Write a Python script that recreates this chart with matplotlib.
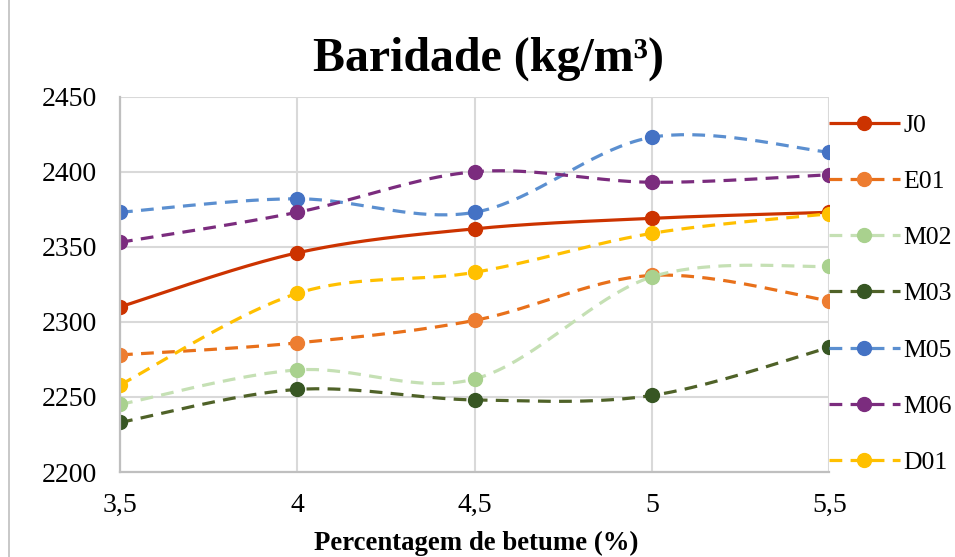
import numpy as np
import matplotlib
matplotlib.use("Agg")
import matplotlib.pyplot as plt

plt.rcParams['font.family'] = ['Liberation Serif', 'DejaVu Serif']

# Data: bulk density (kg/m3) vs bitumen content (%)
betume = [3.5, 4.0, 4.5, 5.0, 5.5]
x_labels = ["3,5", "4", "4,5", "5", "5,5"]

J0 = [2310, 2346, 2362, 2369, 2373]
E01 = [2278, 2286, 2301, 2331, 2314]
M02 = [2245, 2268, 2262, 2330, 2337]
M03 = [2233, 2255, 2248, 2251, 2283]
M05 = [2373, 2382, 2373, 2423, 2413]
M06 = [2353, 2373, 2400, 2393, 2398]
D01 = [2258, 2319, 2333, 2359, 2372]

series = [
    ("J0", J0, "#CC3300", "#CC3300", "-"),
    ("E01", E01, "#E8701A", "#ED7D31", "--"),
    ("M02", M02, "#C5E0B4", "#A9D18E", "--"),
    ("M03", M03, "#4F6228", "#375623", "--"),
    ("M05", M05, "#5B8FD0", "#4472C4", "--"),
    ("M06", M06, "#7B2C7E", "#7B2C7E", "--"),
    ("D01", D01, "#FFC000", "#FFC000", "--"),
]


def smooth(xs, ys, n=40):
    """Bezier smoothing through every point (Catmull-Rom style control points)."""
    pts = np.column_stack([xs, ys]).astype(float)
    out = []
    for i in range(len(pts) - 1):
        p0 = pts[i - 1] if i > 0 else pts[i]
        p1, p2 = pts[i], pts[i + 1]
        p3 = pts[i + 2] if i + 2 < len(pts) else pts[i + 1]
        c1 = p1 + (p2 - p0) / 6.0
        c2 = p2 - (p3 - p1) / 6.0
        t = np.linspace(0, 1, n)[:, None]
        seg = ((1 - t) ** 3 * p1 + 3 * (1 - t) ** 2 * t * c1
               + 3 * (1 - t) * t ** 2 * c2 + t ** 3 * p2)
        out.append(seg if i == len(pts) - 2 else seg[:-1])
    curve = np.vstack(out)
    marks = [k * (n - 1) for k in range(len(pts))]
    return curve[:, 0], curve[:, 1], marks


fig = plt.figure(figsize=(9.55, 5.57), dpi=100)
ax = fig.add_axes([120 / 955, 1 - 472 / 557, (829.3 - 120) / 955, (472 - 96.7) / 557])

for name, vals, lc, mc, ls in series:
    sx, sy, marks = smooth(betume, vals)
    kw = dict(color=lc, lw=2.3, marker="o", markersize=10,
              markerfacecolor=mc, markeredgecolor=mc, markevery=marks,
              label=name, solid_capstyle="butt", dash_capstyle="butt")
    if ls == "--":
        ax.plot(sx, sy, linestyle=(0, (4, 2.6)), **kw)
    else:
        ax.plot(sx, sy, linestyle="-", **kw)

ax.set_xlim(3.5, 5.5)
ax.set_ylim(2200, 2450)
ax.set_xticks(betume)
ax.set_xticklabels(x_labels)
ax.set_yticks(np.arange(2200, 2451, 50))
ax.tick_params(axis="both", length=0, labelsize=20, colors="black")
ax.tick_params(axis="y", pad=16.5)
ax.tick_params(axis="x", pad=15)
ax.grid(True, color="#D9D9D9", lw=1.5)
ax.set_axisbelow(True)
for side in ("top", "right"):
    ax.spines[side].set_visible(False)
for side in ("left", "bottom"):
    ax.spines[side].set_color("#BFBFBF")
    ax.spines[side].set_linewidth(1.6)

fig.text(488 / 955, 1 - 71 / 557, "Baridade (kg/m³)", ha="center", va="baseline",
         fontsize=34.5, fontweight="bold")
fig.text(476 / 955, 1 - 550 / 557, "Percentagem de betume (%)", ha="center",
         va="baseline", fontsize=19.3, fontweight="bold")

leg = ax.legend(loc="upper left", bbox_to_anchor=(829 / 955, 1 - 114 / 557),
                bbox_transform=fig.transFigure, frameon=False, fontsize=18.5,
                handlelength=2.75, handletextpad=0.15, labelspacing=1.29,
                numpoints=1, borderaxespad=0, borderpad=0)

# Outer chart frame on the left edge
fig.add_artist(plt.Line2D([8.5 / 955, 8.5 / 955], [0, 1], transform=fig.transFigure,
                          color="#BFBFBF", lw=1.2))

fig.savefig("out.png", dpi=100)
